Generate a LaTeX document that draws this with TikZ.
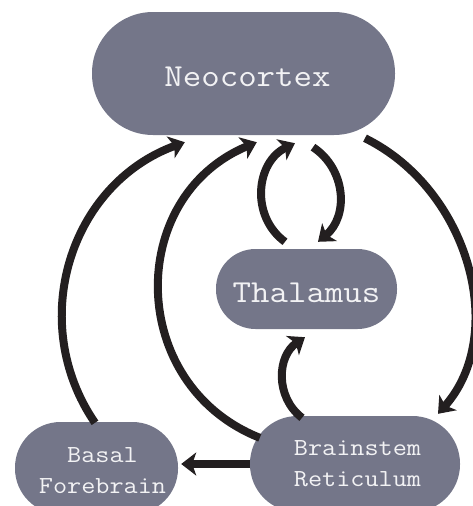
\documentclass[tikz,border=0pt]{standalone}
\usepackage{fontspec}
\newfontfamily\regionfont[FakeStretch=1.12]{Latin Modern Mono}
\usetikzlibrary{arrows.meta}
\definecolor{pill}{RGB}{116,118,137}
\definecolor{ink}{RGB}{35,31,32}
\definecolor{label}{RGB}{242,242,244}
\begin{document}
\begin{tikzpicture}[x=1pt,y=-1pt,
  region/.style={fill=pill, text=label, inner sep=0pt, align=center},
  bigtext/.style={font=\regionfont\fontsize{32}{36}\selectfont, text height=26.6pt, text depth=0pt},
  smalltext/.style={font=\regionfont\fontsize{24.5}{31}\selectfont},
  link/.style={draw=ink, line width=8pt, line cap=butt,
    -{Stealth[length=15pt,width=23pt,inset=4pt]}}]
\useasboundingbox (0,0) rectangle (473,506);
\clip (0,0) rectangle (473,506);

% brain regions
\node[region, bigtext, rounded corners=61pt, minimum width=303pt, minimum height=123pt]
  (neo) at (243.5,73.5) {\hspace*{8pt}Neocortex};
\node[region, bigtext, rounded corners=39.5pt, minimum width=181pt, minimum height=80pt]
  (thal) at (306.5,289) {Thalamus};
\node[region, smalltext, rounded corners=45.5pt, minimum width=163pt, minimum height=92pt]
  (basal) at (96.5,468) {\rule{0pt}{21pt}\hspace*{12pt}Basal\\\hspace*{12pt}Forebrain};
\node[region, smalltext, rounded corners=47.5pt, minimum width=210pt, minimum height=96pt]
  (bs) at (355,464) {\hspace*{5pt}Brainstem\\\hspace*{5pt}Reticulum};

% projections
\draw[link] ([shift={(-1.5,1)}]basal.north)
  .. controls (26,322) and (70,184) .. ([shift={(93,7)}]neo.south west);
\draw[link] ([shift={(10,22)}]bs.north west)
  .. controls (127,385) and (125,197) .. ([shift={(165,7)}]neo.south west);
\draw[link] ([shift={(-21.5,-7)}]thal.north)
  .. controls (250,216) and (256,162) .. ([shift={(51.5,8)}]neo.south);
\draw[link] ([shift={(69.5,12)}]neo.south)
  .. controls (346,169) and (349,216) .. ([shift={(11.5,-7)}]thal.north);
\draw[link] ([shift={(-53,2)}]bs.north)
  .. controls (275,397) and (277,356) .. ([shift={(-1.5,8)}]thal.south);
\draw[link] ([shift={(121.5,3)}]neo.south)
  .. controls (470,190) and (508,335) .. ([shift={(83,-2)}]bs.north);
\draw[link, shorten >=3pt] (bs.west) -- (bs.west -| basal.east);
\end{tikzpicture}
\end{document}
